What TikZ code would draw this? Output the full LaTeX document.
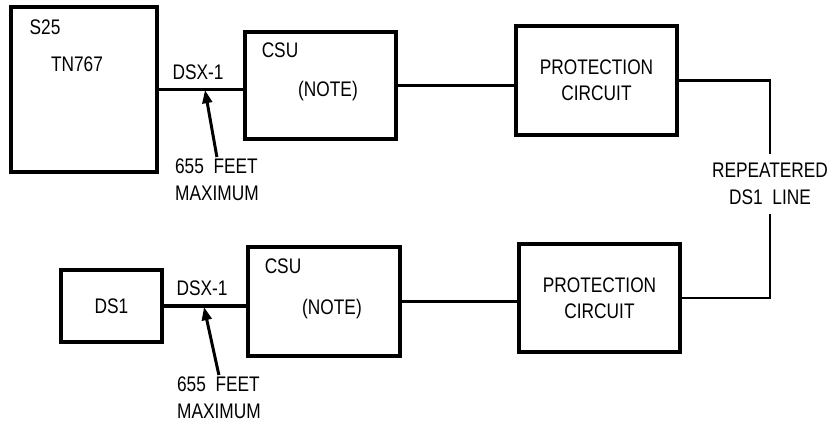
\documentclass[tikz,border=0pt]{standalone}
\usepackage{fontspec}
\setmainfont{Liberation Sans}[FakeStretch=0.82]
\usetikzlibrary{arrows.meta}

\begin{document}
\begin{tikzpicture}[x=0.02cm, y=-0.02cm,
        txt/.style={inner sep=1pt, font=\fontsize{12}{15}\selectfont},
        unit/.style={txt, draw, line width=2.6pt, align=center},
        wire/.style={line width=2pt},
        pointer/.style={line width=1.7pt, -{Triangle[length=7.5pt, width=5.5pt]}}]
    \useasboundingbox (0,0) rectangle (830,423);

    % Upper chain
    \node (s25) [unit, minimum width=2.92cm, minimum height=3.3cm] at (84,89.5) {};
    \node (s25name) [txt] at (45,27) {S25};
    \node (tn767) [txt] at (77,64) {TN767};
    \node (csuA) [unit, minimum width=3.02cm, minimum height=2.14cm] at (320.5,85.5) {};
    \node (csuAname) [txt] at (280,50) {CSU};
    \node (noteA) [txt] at (328,91) {(NOTE)};
    \node (protA) [unit, minimum width=3.22cm, minimum height=2.18cm] at (596.5,80.5) {PROTECTION\\CIRCUIT};
    \draw [wire] (s25.east) -- (s25.east -| csuA.west);
    \draw [wire] (csuA.east) -- (csuA.east -| protA.west);

        % Cable length note
        \node (dsxA) [txt] at (198,72) {DSX-1};
        \coordinate (tipA) at (205,90);
        \node (feetA) [txt, align=left, anchor=north west] at (173,157) {655~~FEET\\MAXIMUM};
        \draw [pointer] (feetA.north) -- (tipA);

    % Line between the two sites
    \node (rep) [txt, align=center, inner sep=5pt] at (770,184) {REPEATERED\\DS1~~LINE};

    % Lower chain
    \node (ds1) [unit, minimum width=2.02cm, minimum height=1.44cm] at (111.5,306) {DS1};
    \node (csuB) [unit, minimum width=3.04cm, minimum height=2.18cm] at (324,301.5) {};
    \node (csuBname) [txt] at (283,266) {CSU};
    \node (noteB) [txt] at (332,309) {(NOTE)};
    \node (protB) [unit, minimum width=3.22cm, minimum height=2.16cm] at (599.5,298) {PROTECTION\\CIRCUIT};
    \draw [wire] (ds1.east) -- (ds1.east -| csuB.west);
    \draw [wire] (csuB.east) -- (csuB.east -| protB.west);

        % Cable length note
        \node (dsxB) [txt] at (202,288) {DSX-1};
        \coordinate (tipB) at (204,307);
        \node (feetB) [txt, align=left, anchor=north west] at (175,375) {655~~FEET\\MAXIMUM};
        \draw [pointer] (feetB.north) -- (tipB);

    \draw [wire, line width=1.4pt] (protA.east) -| (rep.north);
    \draw [wire, line width=1.6pt] (rep.south) |- (protB.east);
\end{tikzpicture}
\end{document}
